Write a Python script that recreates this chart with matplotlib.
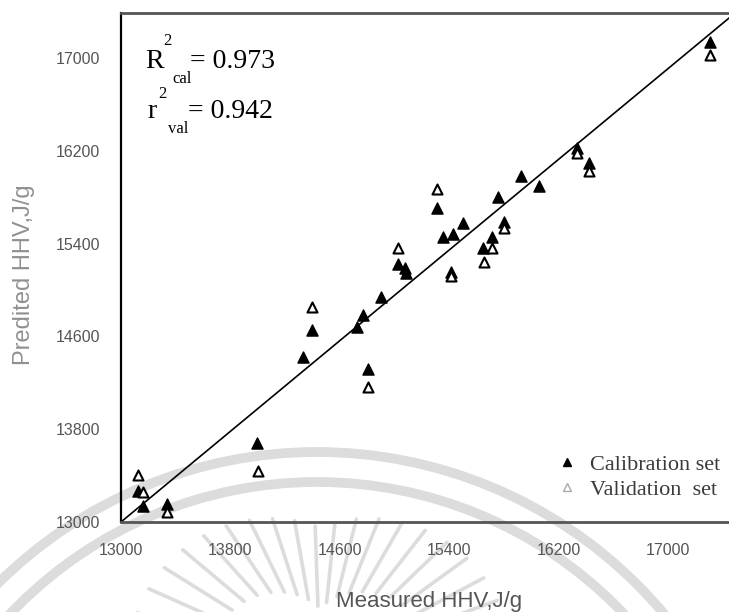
import numpy as np
import matplotlib.pyplot as plt
from matplotlib.lines import Line2D
from matplotlib.patches import Arc

# measured vs predicted HHV (J/g)
cal_measured = [13124, 13161, 13336, 13994, 14330, 14396, 14725, 14769, 14806, 14901,
                15025, 15076, 15083, 15310, 15354, 15427, 15500, 15412, 15646, 15712,
                15756, 15800, 15924, 16056, 16333, 16421, 17306]
cal_predicted = [13267, 13138, 13155, 13681, 14422, 14655, 14681, 14784, 14319, 14940,
                 15224, 15190, 15147, 15707, 15457, 15483, 15578, 15155, 15362, 15457,
                 15802, 15586, 15983, 15897, 16224, 16095, 17138]

val_measured = [13124, 13161, 13336, 14001, 14396, 14806, 15025, 15310, 15412, 15654,
                15712, 15800, 16333, 16421, 17306]
val_predicted = [13405, 13259, 13086, 13440, 14853, 14164, 15362, 15871, 15121, 15241,
                 15362, 15534, 16181, 16026, 17026]

fit_x = [13000, 17450]
fit_y = [13000, 17350]

ticks = [13000, 13800, 14600, 15400, 16200, 17000]
r2_cal = 0.973
r2_val = 0.942

W, H = 729, 612
fig = plt.figure(figsize=(W / 100, H / 100), dpi=100, facecolor='white')

def fx(px):
    return px / W

def fy(py):
    return 1 - py / H

# faint logo behind the plot
bg = fig.add_axes([0, 0, 1, 1], zorder=0)
bg.set_xlim(0, W)
bg.set_ylim(H, 0)
bg.axis('off')
wm = '#dcdcdc'
for r in (453, 423):
    bg.add_patch(Arc((317, 905), 2 * r, 2 * r, theta1=180, theta2=360, color=wm, lw=7))
cx, cy = 320, 665
for ang in np.arange(12, 170, 8):
    a = np.deg2rad(ang)
    r_out = 137 + 55 * abs(np.cos(a))
    r_in = r_out - 80
    bg.plot([cx + r_in * np.cos(a), cx + r_out * np.cos(a)],
            [cy - r_in * np.sin(a), cy - r_out * np.sin(a)], color=wm, lw=2.6,
            solid_capstyle='round')

ax = fig.add_axes([fx(121), fy(522), 1 - fx(121), fy(13) - fy(522)], zorder=1)
ax.patch.set_alpha(0)
ax.set_xlim(13000, 17444)
ax.set_ylim(13000, 17388)

ax.plot(fit_x, fit_y, color='black', lw=1.2, zorder=2)
ax.scatter(cal_measured, cal_predicted, marker='^', s=64, color='black', zorder=3)
ax.scatter(val_measured, val_predicted, marker='^', s=52, facecolor='white',
           edgecolor='black', linewidths=1.5, zorder=3)

ax.set_xticks(ticks)
ax.set_yticks(ticks)
ax.tick_params(length=0, labelsize=11.5, labelcolor='#555555', pad=15)
for lab in ax.get_xticklabels() + ax.get_yticklabels():
    lab.set_family('Liberation Sans')

ax.spines['right'].set_visible(False)
ax.spines['left'].set_color('black')
ax.spines['left'].set_linewidth(1.6)
for s in ('top', 'bottom'):
    ax.spines[s].set_color('#555555')
    ax.spines[s].set_linewidth(2.0)

fig.text(fx(429), fy(602), 'Measured HHV,J/g', ha='center', va='center',
         fontsize=16, color='#555555', family='Liberation Sans')
fig.text(fx(24), fy(275), 'Predited HHV,J/g', ha='center', va='center', rotation=90,
         fontsize=17, color='#909090', family='Liberation Sans')

# R² / r² annotations
serif = 'Liberation Serif'
fig.text(fx(145), fy(68), 'R', fontsize=20, family=serif, va='baseline')
fig.text(fx(163), fy(45), '2', fontsize=12, family=serif, va='baseline')
fig.text(fx(172), fy(83), 'cal', fontsize=12, family=serif, va='baseline')
fig.text(fx(190), fy(68), '= %.3f' % r2_cal, fontsize=20, family=serif, va='baseline')
fig.text(fx(147), fy(118), 'r', fontsize=20, family=serif, va='baseline')
fig.text(fx(158), fy(98), '2', fontsize=12, family=serif, va='baseline')
fig.text(fx(168), fy(133), 'val', fontsize=12, family=serif, va='baseline')
fig.text(fx(188), fy(118), '= %.3f' % r2_val, fontsize=20, family=serif, va='baseline')

handles = [
    Line2D([], [], ls='none', marker='^', ms=6, color='black'),
    Line2D([], [], ls='none', marker='^', ms=6, markerfacecolor='white',
           markeredgecolor='#aaaaaa', markeredgewidth=1.0),
]
leg = ax.legend(handles, ['Calibration set', 'Validation  set'], loc='upper left',
                bbox_to_anchor=(fx(561), fy(454)), bbox_transform=fig.transFigure,
                frameon=False, borderpad=0, borderaxespad=0, handlelength=0.5,
                handletextpad=0.8, labelspacing=0.2,
                prop={'family': serif, 'size': 16})
for t in leg.get_texts():
    t.set_color('#3a3a3a')

fig.savefig('out.png', dpi=100, facecolor='white')
